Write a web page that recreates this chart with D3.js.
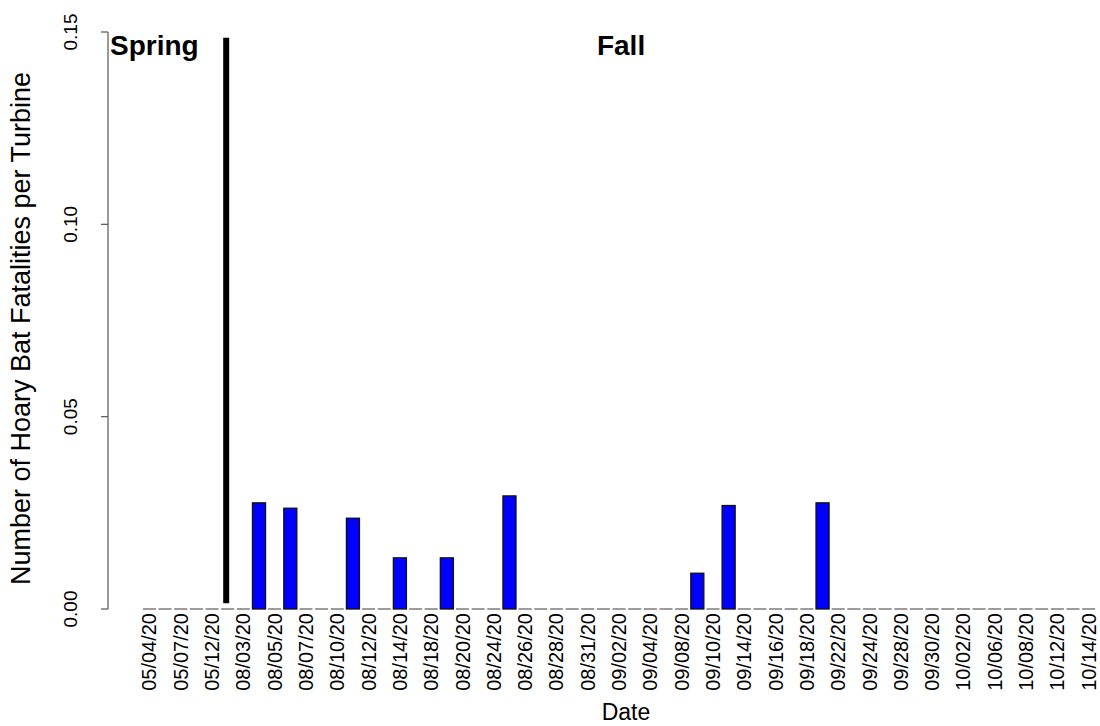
<!DOCTYPE html>
<html>
<head>
<meta charset="utf-8">
<script src="https://cdn.jsdelivr.net/npm/d3@7"></script>
<style>
  body { margin: 0; background: #fff; }
  svg text { font-family: "Liberation Sans", Arial, sans-serif; fill: #000; }
</style>
</head>
<body>
<div id="chart"></div>
<script>
// survey dates (odd ones are not printed: R drops overlapping labels)
const DATES = [
  "05/04/20", "05/05/20", "05/07/20", "05/10/20", "05/12/20", "05/14/20",
  "08/03/20", "08/04/20", "08/05/20", "08/06/20", "08/07/20", "08/09/20",
  "08/10/20", "08/11/20", "08/12/20", "08/13/20", "08/14/20", "08/16/20",
  "08/18/20", "08/19/20", "08/20/20", "08/22/20", "08/24/20", "08/25/20",
  "08/26/20", "08/27/20", "08/28/20", "08/30/20", "08/31/20", "09/01/20",
  "09/02/20", "09/03/20", "09/04/20", "09/06/20", "09/08/20", "09/09/20",
  "09/10/20", "09/12/20", "09/14/20", "09/15/20", "09/16/20", "09/17/20",
  "09/18/20", "09/20/20", "09/22/20", "09/23/20", "09/24/20", "09/26/20",
  "09/28/20", "09/29/20", "09/30/20", "10/01/20", "10/02/20", "10/04/20",
  "10/06/20", "10/07/20", "10/08/20", "10/10/20", "10/12/20", "10/13/20",
  "10/14/20"
];

// fatalities per turbine, by index in DATES
const FATALITIES = [
  0, 0, 0, 0, 0, 0,
  0, 0.0276, 0, 0.0262, 0, 0,
  0, 0.0236, 0, 0, 0.0133, 0,
  0, 0.0133, 0, 0, 0, 0.0294,
  0, 0, 0, 0, 0, 0,
  0, 0, 0, 0, 0, 0.0093,
  0, 0.0269, 0, 0, 0, 0,
  0, 0.0276, 0, 0, 0, 0,
  0, 0, 0, 0, 0, 0,
  0, 0, 0, 0, 0, 0,
  0
];

const Y_TICKS = [0, 0.05, 0.10, 0.15];
const SEASON_BREAK = { date: "05/14/20", from: 0.0015, to: 0.1485 };
const SEASONS = [
  { label: "Spring", date: "05/04/20" },
  { label: "Fall", date: "09/02/20" }
];

const data = DATES.map((d, i) => ({ date: d, value: FATALITIES[i], i }));

const width = 1100, height = 726;
const svg = d3.select("#chart").append("svg")
  .attr("width", width)
  .attr("height", height);

const x = d3.scaleBand()
  .domain(DATES)
  .range([142.9, 1095.2])
  .paddingInner(0.2 / 1.2)
  .paddingOuter(0);

const y = d3.scaleLinear()
  .domain([0, 0.15])
  .range([609, 32]);

const cx = d => x(d) + x.bandwidth() / 2;

// y axis, R style
const yAxis = svg.append("g");
yAxis.append("line")
  .attr("x1", 108).attr("x2", 108)
  .attr("y1", y(0)).attr("y2", y(0.15))
  .attr("stroke", "#555").attr("stroke-width", 1.2);
yAxis.selectAll(".ytick")
  .data(Y_TICKS)
  .join("line")
  .attr("x1", 101).attr("x2", 108)
  .attr("y1", d => y(d)).attr("y2", d => y(d))
  .attr("stroke", "#555").attr("stroke-width", 1.2);
yAxis.selectAll(".ylab")
  .data(Y_TICKS)
  .join("text")
  .attr("transform", d => `translate(77, ${y(d)}) rotate(-90)`)
  .attr("text-anchor", "middle")
  .attr("font-size", 19)
  .text(d => d3.format(".2f")(d));

svg.append("text")
  .attr("transform", `translate(30, ${(y(0) + y(0.15)) / 2 + 8}) rotate(-90)`)
  .attr("text-anchor", "middle")
  .attr("font-size", 27)
  .text("Number of Hoary Bat Fatalities per Turbine");

// bars with a count
svg.selectAll(".bar")
  .data(data.filter(d => d.value > 0))
  .join("rect")
  .attr("x", d => x(d.date))
  .attr("width", x.bandwidth())
  .attr("y", d => y(d.value))
  .attr("height", d => y(0) - y(d.value))
  .attr("fill", "#0000ff")
  .attr("stroke", "#111")
  .attr("stroke-width", 1.3);

// zero bars collapse to a dash on the baseline
svg.selectAll(".zero")
  .data(data.filter(d => d.value === 0))
  .join("line")
  .attr("x1", d => x(d.date))
  .attr("x2", d => x(d.date) + x.bandwidth())
  .attr("y1", y(0)).attr("y2", y(0))
  .attr("stroke", "#666")
  .attr("stroke-width", 1.3);

// x tick labels, every other one
svg.selectAll(".xlab")
  .data(data.filter(d => d.i % 2 === 0))
  .join("text")
  .attr("transform", d => `translate(${cx(d.date) + 7}, 613) rotate(-90)`)
  .attr("text-anchor", "end")
  .attr("font-size", 20)
  .text(d => d.date);

svg.append("text")
  .attr("x", 626)
  .attr("y", 720)
  .attr("text-anchor", "middle")
  .attr("font-size", 23)
  .text("Date");

// season divider
svg.append("line")
  .attr("x1", cx(SEASON_BREAK.date) - 1.5)
  .attr("x2", cx(SEASON_BREAK.date) - 1.5)
  .attr("y1", y(SEASON_BREAK.from))
  .attr("y2", y(SEASON_BREAK.to))
  .attr("stroke", "#000")
  .attr("stroke-width", 6);

svg.append("text")
  .attr("x", 110)
  .attr("y", 55)
  .attr("font-size", 28)
  .attr("font-weight", "bold")
  .text(SEASONS[0].label);

svg.append("text")
  .attr("x", cx(SEASONS[1].date) + 2)
  .attr("y", 55)
  .attr("text-anchor", "middle")
  .attr("font-size", 28)
  .attr("font-weight", "bold")
  .text(SEASONS[1].label);
</script>
</body>
</html>
